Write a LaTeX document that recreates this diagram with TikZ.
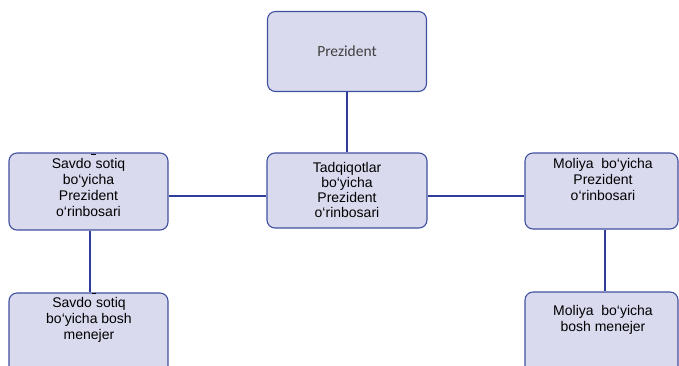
\documentclass[tikz,border=0pt]{standalone}
\usepackage{fontspec}
\setmainfont{Liberation Sans}
\newfontfamily\calib{Carlito}
\definecolor{boxfill}{HTML}{D9DAEE}
\definecolor{boxline}{HTML}{4050A0}
\definecolor{linkline}{HTML}{2E3C9A}
\definecolor{softtext}{HTML}{404040}
\newcommand{\raiseddash}{\hbox to 0.3em{\hss\smash{\raisebox{0.98em}{\rule{0.3em}{0.07em}}}\hss}}
\begin{document}
\begin{tikzpicture}[x=1pt,y=-1pt,
  box/.style={draw=boxline,line width=1.1pt,fill=boxfill,rounded corners=8pt,inner sep=0pt},
  lbl/.style={align=center,font=\fontsize{14}{16}\selectfont,text=black,inner sep=0pt,anchor=north},
  link/.style={draw=linkline,line width=1.6pt}]
\useasboundingbox (0,0) rectangle (679,365);
\clip (0,0) rectangle (679,365);
% boxes
\node[box,minimum width=159pt,minimum height=80pt] (pres) at (347,51.5) {};
\node[box,minimum width=160pt,minimum height=75pt] (tad) at (347,190.5) {};
\node[box,minimum width=159pt,minimum height=77pt] (sv) at (88.5,191.5) {};
\node[box,minimum width=153pt,minimum height=76pt] (mol) at (601.5,191) {};
\node[box,minimum width=159pt,minimum height=90pt] (svm) at (88.5,338) {};
\node[box,minimum width=153pt,minimum height=90pt] (molm) at (601.5,337) {};
% connectors
\draw[link] (pres.south) -- (tad.north);
\draw[link] (sv.east |- 0,196) -- (tad.west |- 0,196);
\draw[link] (tad.east |- 0,196) -- (mol.west |- 0,196);
\draw[link] (sv.south -| 90,0) -- (svm.north -| 90,0);
\draw[link] (mol.south -| 605,0) -- (molm.north -| 605,0);
% labels
\node[font=\calib\fontsize{15.5}{18}\selectfont,text=softtext,inner sep=0pt] (presl) at (pres.center) {Prezident};
\node[lbl,font=\fontsize{14}{15}\selectfont] (tadl) at (347,162.5) {Tadqiqotlar\\bo‘yicha\\Prezident\\o‘rinbosari};
\node[lbl] (svl) at (88.5,158) {Savdo\raiseddash sotiq\\bo‘yicha\\Prezident\\o‘rinbosari};
\node[lbl] (moll) at (603,158.5) {Moliya\ \ bo‘yicha\\Prezident\\o‘rinbosari};
\node[lbl] (svml) at (89,297) {Savdo\raiseddash sotiq\\bo‘yicha bosh\\menejer};
\node[lbl] (molml) at (603,305) {Moliya\ \ bo‘yicha\\bosh menejer};
\end{tikzpicture}
\end{document}
